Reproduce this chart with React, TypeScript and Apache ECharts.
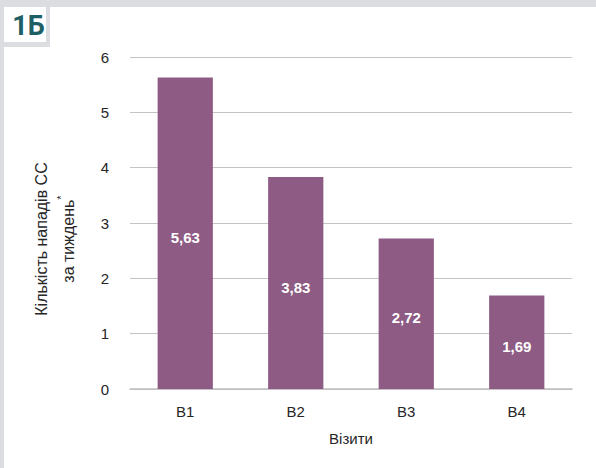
import React, { useEffect, useRef } from "react";
import * as echarts from "echarts";

const categories = ["B1", "B2", "B3", "B4"];
const values = [5.63, 3.83, 2.72, 1.69];
const yTicks = [0, 1, 2, 3, 4, 5, 6];
const badgeText = "1Б";
const yAxisName = "Кількість нападів СС\nза тиждень{sup|*}";
const xAxisName = "Візити";

export default function App() {
  const ref = useRef<HTMLDivElement>(null);
  useEffect(() => {
    if (!ref.current) return;
    const chart = echarts.init(ref.current, undefined, { renderer: "svg" });
    const font = "'Liberation Sans', Arial, sans-serif";
    chart.setOption({
      animation: false,
      backgroundColor: "#dcdde0",
      textStyle: { fontFamily: font },
      graphic: [
        { type: "rect", z: -10, shape: { x: 50, y: 7, width: 546, height: 461 }, style: { fill: "#ffffff" }, silent: true },
        { type: "rect", z: -10, shape: { x: 4, y: 47, width: 592, height: 421 }, style: { fill: "#ffffff" }, silent: true },
        { type: "rect", z: -10, shape: { x: 4, y: 7, width: 42, height: 35 }, style: { fill: "#ffffff" }, silent: true },
        {
          type: "text",
          x: 28.5,
          y: 26,
          style: {
            text: badgeText,
            fill: "#1e5f66",
            font: "bold 27px Roboto, 'Open Sans', sans-serif",
            textAlign: "center",
            textVerticalAlign: "middle",
          },
        },
        {
          type: "text",
          x: 55,
          y: 239,
          rotation: Math.PI / 2,
          style: {
            text: yAxisName,
            fill: "#262626",
            fontSize: 16,
            fontFamily: font,
            lineHeight: 27,
            align: "center",
            verticalAlign: "middle",
            rich: {
              sup: { fontSize: 11, fill: "#262626", fontFamily: font, verticalAlign: "top", lineHeight: 17 },
            },
          },
        },
      ],
      grid: { left: 130, right: 24, top: 57, bottom: 79, containLabel: false },
      xAxis: {
        type: "category",
        data: categories,
        name: xAxisName,
        nameLocation: "middle",
        nameGap: 42,
        nameTextStyle: { fontSize: 15, color: "#262626", fontFamily: font },
        axisLine: { lineStyle: { color: "#bfbfbf", width: 1.5 } },
        axisTick: { show: false },
        axisLabel: { fontSize: 15, color: "#262626", margin: 15, fontFamily: font },
      },
      yAxis: {
        type: "value",
        min: yTicks[0],
        max: yTicks[yTicks.length - 1],
        interval: 1,
        axisLine: { show: false },
        axisTick: { show: false },
        axisLabel: { fontSize: 15, color: "#262626", margin: 21, fontFamily: font },
        splitLine: { lineStyle: { color: "#c4c4c4", width: 1 } },
      },
      series: [
        {
          type: "bar",
          data: values,
          barWidth: "50%",
          itemStyle: { color: "#8e5b84" },
          label: {
            show: true,
            position: "inside",
            offset: [0, 4],
            color: "#ffffff",
            fontWeight: "bold",
            fontSize: 15,
            fontFamily: font,
            formatter: (p: any) => Number(p.value).toFixed(2).replace(".", ","),
          },
        },
      ],
    });
    return () => chart.dispose();
  }, []);
  return (
    <div
      ref={ref}
      style={{ position: "fixed", left: 0, top: 0, width: 596, height: 468 }}
    />
  );
}
